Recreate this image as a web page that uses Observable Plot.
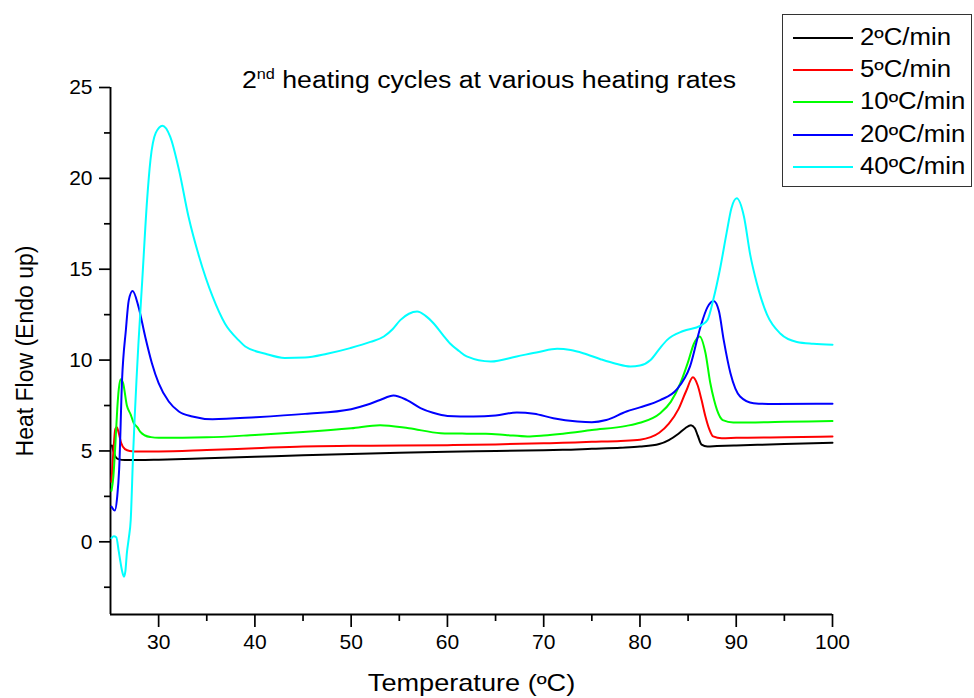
<!DOCTYPE html>
<html><head><meta charset="utf-8">
<script src="https://cdn.jsdelivr.net/npm/d3@7"></script>
<script src="https://cdn.jsdelivr.net/npm/@observablehq/plot@0.6"></script>
<style>
body{margin:0;background:#fff;font-family:"Liberation Sans",Arial,sans-serif;}
#wrap{position:relative;width:974px;height:698px;overflow:hidden;}
#title{position:absolute;left:0;width:978px;top:67px;text-align:center;font-size:23px;color:#000;white-space:nowrap;transform:scaleX(1.16);transform-origin:489px 0;}
#title sup{font-size:14px;vertical-align:9px;line-height:0;}
#legend{position:absolute;left:782px;top:14px;width:188px;height:171px;border:1.5px solid #333;background:#fff;}
.row{position:absolute;left:0;height:30px;font-size:23px;line-height:30px;color:#000;white-space:nowrap;}
.row svg{position:absolute;left:10px;top:14px;}
.row span{position:absolute;left:77px;top:0;transform:scaleX(1.12);transform-origin:0 0;}
</style>
</head><body>
<div id="wrap"><div id="chart"></div>
<div id="title">2<sup>nd</sup> heating cycles at various heating rates</div>
<div id="legend"></div>
</div>
<script>
const seriesNames = ["2ºC/min","5ºC/min","10ºC/min","20ºC/min","40ºC/min"];
const seriesColors = ["#000000","#ff0000","#00ff00","#0000ff","#00ffff"];
const xTicks = [30,40,50,60,70,80,90,100];
const xMinor = [35,45,55,65,75,85,95];
const yTicks = [0,5,10,15,20,25];
const yMinor = [-2.5,2.5,7.5,12.5,17.5,22.5];

const t2 = [25.15,25.3,25.5,25.8,26.5,28,30,35,40,45,50,55,60,65,70,72,75,78,80,82,83,84,84.7,85.3,85.7,86.0,86.4,87,88,90,95,100];
const v2 = [5.3,5.0,4.7,4.55,4.5,4.5,4.52,4.6,4.68,4.76,4.83,4.9,4.96,5.0,5.04,5.06,5.12,5.18,5.24,5.38,5.6,5.95,6.25,6.42,6.25,5.85,5.35,5.25,5.27,5.3,5.38,5.45];

const t5 = [25.1,25.3,25.5,25.65,25.85,26.1,26.5,27,28,30,35,40,45,50,55,60,65,70,72,75,78,80,82,83,84,84.8,85.5,86.0,86.4,86.8,87.2,87.6,88.5,90,95,100];
const v5 = [3.3,5.0,6.2,6.3,6.0,5.45,5.1,5.0,4.97,4.97,5.05,5.15,5.25,5.28,5.3,5.32,5.36,5.42,5.45,5.5,5.55,5.62,6.0,6.5,7.3,8.3,9.05,8.6,7.8,6.9,6.2,5.8,5.7,5.72,5.75,5.8];

const t10 = [25.1,25.3,25.5,25.7,25.86,26.05,26.3,26.7,27.1,27.4,27.8,28.1,28.6,29.2,30,35,40,45,50,53,56,59.3,62,64,66,68.3,70,72,75,78.6,80,82.1,83.2,84.2,85,85.6,86.2,86.8,87.3,87.7,88.0,88.6,89.7,92,95,100];
const v10 = [2.8,3.6,5.3,7.3,8.4,8.95,8.75,7.5,7.0,6.55,6.3,6.05,5.85,5.76,5.72,5.75,5.88,6.04,6.25,6.42,6.25,5.98,5.95,5.94,5.88,5.8,5.85,5.95,6.15,6.38,6.55,7.08,7.7,8.73,9.9,10.9,11.3,10.4,8.75,7.8,7.26,6.7,6.57,6.57,6.6,6.65];

const t20 = [25.1,25.45,25.7,25.9,26.2,26.6,26.9,27.3,27.9,28.6,29.3,30.0,31.05,32.1,33.5,35.6,40.1,45.2,50,51.65,53,54.4,55.8,57.2,58.5,60,62.7,65,67.2,69,71,73.5,75,76.5,78.6,80,82.1,83.8,85.2,86.3,87.0,87.65,88.2,88.7,89.4,90.4,91.8,94,100];
const v20 = [1.94,1.72,2.5,4.0,8.9,11.67,13.3,13.8,12.95,11.3,9.83,8.73,7.72,7.17,6.9,6.75,6.86,7.04,7.3,7.54,7.8,8.05,7.8,7.36,7.1,6.93,6.9,6.95,7.12,7.05,6.8,6.62,6.58,6.7,7.17,7.4,7.8,8.37,9.65,11.85,12.9,13.25,12.7,11.1,9.28,8.0,7.63,7.58,7.6];

const t40 = [25.1,25.35,25.6,25.85,26.0,26.2,26.4,26.55,26.7,26.9,27.1,27.35,27.5,27.7,27.9,28.3,28.8,29.15,29.7,30.4,31.2,32.1,33.1,34.2,35.6,36.9,38.3,39.0,41.1,43.1,45.2,47.5,49.9,52,53.4,54.3,55.1,56,56.85,57.7,58.6,59.5,60.3,61.2,62.0,64.5,67.2,69.5,71.4,72.8,74.1,75.9,77.5,79.0,80.0,81.1,82.0,82.8,84.5,86.3,87.0,87.65,88.3,89.0,89.5,90.05,90.8,91.45,92.15,93.2,94.6,96.3,98,100];
const v40 = [0.2,0.3,0.25,-0.5,-1.0,-1.6,-1.92,-1.6,-0.62,0.2,1.2,4.85,6.7,8.9,10.9,14.4,18.8,21.0,22.5,22.9,22.3,20.5,17.9,15.7,13.5,12.0,11.1,10.75,10.35,10.12,10.14,10.35,10.66,11.0,11.3,11.7,12.2,12.55,12.67,12.45,12.0,11.4,10.9,10.5,10.2,9.92,10.2,10.45,10.62,10.55,10.38,10.05,9.8,9.65,9.7,10.0,10.6,11.1,11.6,11.9,12.2,13.4,14.97,17.0,18.36,18.9,17.9,15.8,14.2,12.5,11.45,11.0,10.9,10.85];

const seriesT = [t2,t5,t10,t20,t40];
const seriesV = [v2,v5,v10,v20,v40];
const rows = [];
seriesNames.forEach((name,i)=>{
  seriesT[i].forEach((t,j)=>rows.push({series:name,t,v:seriesV[i][j]}));
});

const font = "Liberation Sans, Arial, sans-serif";
const xTitle = "Temperature (ºC)";
const yTitle = "Heat Flow (Endo up)";
const chart = Plot.plot({
  width:974, height:698,
  marginLeft:110, marginRight:142, marginTop:87, marginBottom:84,
  x:{domain:[25,100]},
  y:{domain:[-4,25]},
  color:{domain:seriesNames, range:seriesColors},
  style:{fontFamily:font, fontSize:"21px", color:"#000", background:"#fff", overflow:"visible"},
  marks:[
    Plot.axisX({ticks:xTicks, tickSize:13, tickPadding:7, label:null, fontSize:21, strokeWidth:1.7}),
    Plot.axisX({ticks:xMinor, tickSize:7, tickFormat:()=>"", label:null, strokeWidth:1.7}),
    Plot.axisY({ticks:yTicks, tickSize:11, tickPadding:7, label:null, fontSize:21, strokeWidth:1.7}),
    Plot.axisY({ticks:yMinor, tickSize:6, tickFormat:()=>"", label:null, strokeWidth:1.7}),
    Plot.ruleX([25], {strokeWidth:1.9}),
    Plot.ruleY([-4], {strokeWidth:1.9}),
    Plot.line(rows, {x:"t", y:"v", z:"series", stroke:"series", curve:"monotone-x", strokeWidth:2}),
    Plot.text([yTitle], {frameAnchor:"left", textAnchor:"middle", rotate:-90, dx:-85, fontSize:23, fill:"#000"}),
    Plot.text([xTitle], {frameAnchor:"bottom", textAnchor:"middle", dy:76, fontSize:23, fill:"#000"})
  ]
});
document.getElementById("chart").appendChild(chart);

// widen the x-axis title horizontally to match the reference's letter widths
d3.select(chart).selectAll("text").each(function(){
  if (this.textContent === xTitle) {
    const b = this.getBBox();
    const cx = b.x + b.width/2;
    const prev = this.getAttribute("transform") || "";
    this.setAttribute("transform", `${prev} translate(${cx},0) scale(1.18,1) translate(${-cx},0)`);
  }
});

const legend = document.getElementById("legend");
seriesNames.forEach((name,i)=>{
  const r = document.createElement("div");
  r.className = "row";
  r.style.top = (6.5 + i*32.35) + "px";
  r.innerHTML = `<svg width="62" height="4"><line x1="0" x2="60" y1="2" y2="2" stroke="${seriesColors[i]}" stroke-width="2"/></svg><span>${name}</span>`;
  legend.appendChild(r);
});
</script>
</body></html>
